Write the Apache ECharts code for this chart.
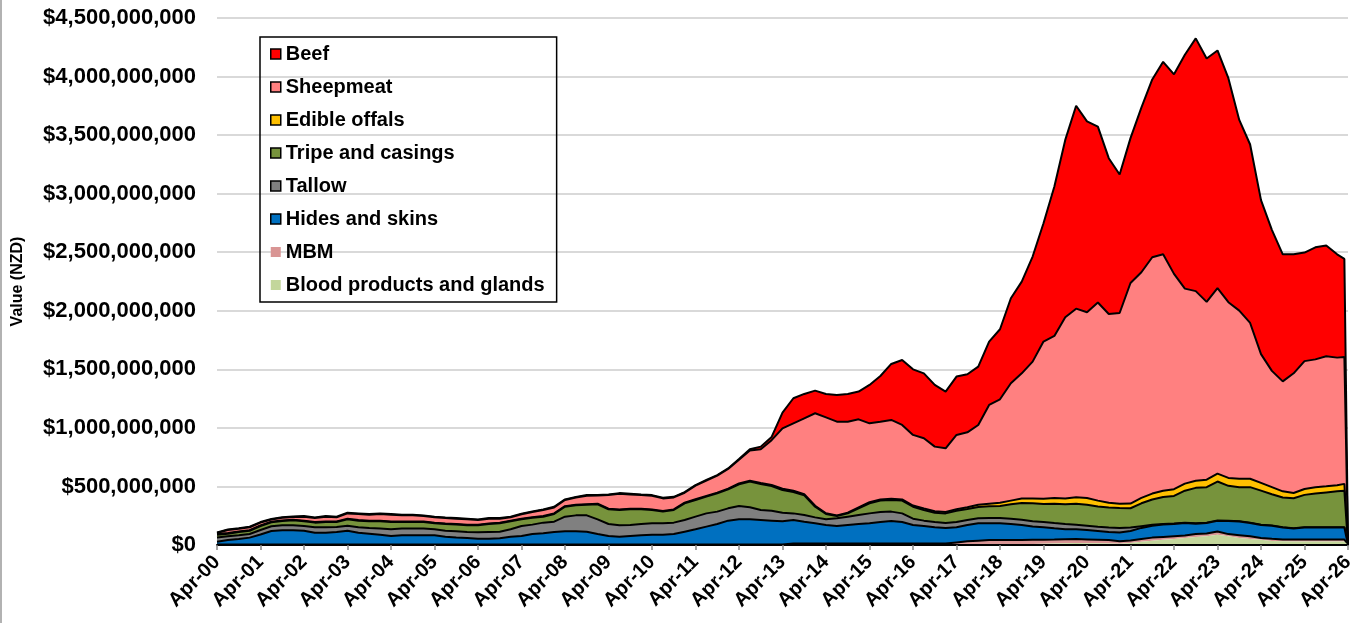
<!DOCTYPE html>
<html lang="en">
<head>
    <meta charset="UTF-8">
    <title>Meat and co-product export values</title>
    <script src="https://cdn.jsdelivr.net/npm/echarts@6.0.0/dist/echarts.min.js"></script>
    <style>
        html, body { margin: 0; padding: 0; background: #fff; }
        #main { width: 1368px; height: 623px; }
    </style>
</head>
<body>
    <div id="main"></div>
    <script>
        // quarterly readings, plus the last partial month where everything drops to zero
        const dates = [
            '2000-04', '2000-07', '2000-10', '2001-01',
            '2001-04', '2001-07', '2001-10', '2002-01',
            '2002-04', '2002-07', '2002-10', '2003-01',
            '2003-04', '2003-07', '2003-10', '2004-01',
            '2004-04', '2004-07', '2004-10', '2005-01',
            '2005-04', '2005-07', '2005-10', '2006-01',
            '2006-04', '2006-07', '2006-10', '2007-01',
            '2007-04', '2007-07', '2007-10', '2008-01',
            '2008-04', '2008-07', '2008-10', '2009-01',
            '2009-04', '2009-07', '2009-10', '2010-01',
            '2010-04', '2010-07', '2010-10', '2011-01',
            '2011-04', '2011-07', '2011-10', '2012-01',
            '2012-04', '2012-07', '2012-10', '2013-01',
            '2013-04', '2013-07', '2013-10', '2014-01',
            '2014-04', '2014-07', '2014-10', '2015-01',
            '2015-04', '2015-07', '2015-10', '2016-01',
            '2016-04', '2016-07', '2016-10', '2017-01',
            '2017-04', '2017-07', '2017-10', '2018-01',
            '2018-04', '2018-07', '2018-10', '2019-01',
            '2019-04', '2019-07', '2019-10', '2020-01',
            '2020-04', '2020-07', '2020-10', '2021-01',
            '2021-04', '2021-07', '2021-10', '2022-01',
            '2022-04', '2022-07', '2022-10', '2023-01',
            '2023-04', '2023-07', '2023-10', '2024-01',
            '2024-04', '2024-07', '2024-10', '2025-01',
            '2025-04', '2025-07', '2025-10', '2026-01',
            '2026-03', '2026-04'
        ];

        // values in NZD millions, one per date
        const blood = [
            1, 1, 1, 1, 1, 1, 1, 1, 1, 1, 1, 1, 1, 1, 1, 1, 1, 1, 1, 1, 1, 1, 1, 1, 1, 1, 1, 1,
            1, 1, 1, 1, 1, 1, 1, 1, 1, 1, 1, 1, 1, 1, 1, 1, 1, 1, 1, 1, 1, 1, 1, 1, 1,
            2, 2, 2, 2, 2, 2, 2, 2, 2, 2, 2, 2, 2, 2, 2, 2, 2, 2,
            4, 5, 6, 7, 8, 10, 12, 15,
            18, 15, 15, 12, 10, 18, 27, 36, 45, 51, 60, 69, 75, 88, 75, 60, 51, 45, 35, 32,
            30, 30, 30, 30, 30, 30, 0
        ];
        const mbm = [
            4, 4, 4, 4, 4, 4, 4, 4, 4, 4, 4, 4, 4, 4, 4, 4, 4, 4, 4, 4, 4, 4, 4, 4, 4, 4, 4, 4,
            4, 4, 4, 4, 4, 4, 4, 4, 4, 4, 4, 4, 4, 4, 4, 4, 4, 4, 4, 4, 4, 4, 4, 4, 4,
            10, 10, 10, 10, 10, 10, 10, 10, 10, 10, 10, 10, 10, 10, 10,
            20, 30, 35, 38, 38, 36, 36, 36, 35, 34, 34,
            33, 33, 30, 30, 22, 21, 24, 27, 24, 24, 21, 24, 24, 28, 18, 24, 24, 15, 18, 16,
            16, 16, 16, 16, 16, 16, 0
        ];
        const hides = [
            23, 38, 46, 58, 85, 115, 120, 120, 117, 100, 100, 106, 117, 100, 92, 83,
            72, 78, 78, 78, 78, 66, 60, 55, 49, 49, 52, 66, 72, 89, 95, 106,
            112, 112, 109, 89, 72, 66, 72, 78, 83, 83, 89, 109, 129, 152, 174, 203,
            214, 214, 209, 203, 197, 202, 187, 173, 159, 150, 159, 167, 173, 184, 193, 184,
            159, 150, 139, 133, 129, 139, 148, 143, 142, 137, 128, 113, 106, 96, 85,
            84, 81, 75, 69, 75, 81, 95, 101, 107, 105, 107, 89, 89, 90, 112, 116, 113,
            110, 111, 101, 94, 103, 103, 103, 103, 103, 0
        ];
        const tallow = [
            37, 31, 32, 31, 38, 40, 43, 43, 40, 46, 46, 43, 43, 46, 48, 52,
            57, 57, 57, 57, 51, 51, 52, 51, 54, 57, 57, 63, 85, 80, 91, 88,
            125, 136, 139, 125, 102, 97, 94, 96, 97, 97, 97, 100, 108, 113, 106, 105,
            114, 103, 85, 85, 74, 56, 57, 51, 48, 66, 71, 77, 85, 86, 80, 74,
            54, 46, 45, 43, 45, 43, 43, 45, 45, 45, 45, 45, 45, 45, 45,
            38, 35, 35, 38, 38, 29, 15, 9, 4, 3, 3, 3, 3, 3, 3, 3, 3,
            3, 3, 3, 3, 3, 3, 3, 3, 3, 0
        ];
        const tripe = [
            23, 23, 28, 28, 34, 34, 37, 43, 40, 40, 45, 42, 54, 57, 57, 62,
            62, 56, 56, 56, 51, 57, 57, 57, 60, 68, 71, 68, 57, 59, 51, 66,
            85, 86, 91, 128, 126, 131, 134, 126, 114, 100, 108, 142, 142, 143, 156, 162,
            185, 219, 222, 211, 194, 183, 168, 91, 46, 20, 28, 57, 86, 97, 99, 109,
            102, 91, 80, 82, 97, 93, 97, 100, 103, 123, 143, 154, 154, 166, 168,
            180, 180, 174, 171, 171, 165, 195, 216, 230, 236, 273, 303, 303, 333, 297, 291, 303,
            291, 267, 253, 256, 276, 288, 297, 306, 312, 0
        ];
        const edible = [
            5, 5, 5, 5, 5, 5, 5, 5, 5, 5, 5, 5, 5, 5, 5, 5, 5, 5, 5, 5, 5, 5,
            5, 5, 5, 5, 5, 5, 5, 5, 5, 5, 5, 5, 5, 5, 5, 5, 5, 5, 5, 5, 5, 5,
            6, 6, 6, 6, 8, 8, 8, 8, 10,
            10, 10, 8, 6, 5, 6, 8, 10, 10, 10, 10, 10, 12, 12, 12,
            12, 15, 18, 22, 28, 32, 38, 42, 45, 48, 50,
            55, 58, 50, 40, 36, 40, 46, 50, 54, 58, 60, 60, 64, 68, 68, 72, 72,
            66, 60, 53, 45, 50, 54, 52, 52, 58, 0
        ];
        const sheepmeat = [
            10, 26, 23, 24, 24, 18, 22, 23, 35, 34, 41, 35, 46, 52, 52, 58,
            58, 52, 52, 46, 46, 46, 46, 46, 40, 41, 35, 29, 38, 44, 52, 51,
            52, 62, 72, 71, 116, 134, 122, 116, 117, 108, 102, 85, 117, 131, 145, 168,
            202, 257, 288, 383, 516, 576, 648, 790, 819, 800, 777, 752, 673, 664, 674, 636,
            603, 600, 552, 544, 635, 640, 682, 844, 883, 1002, 1069, 1168, 1342, 1384, 1547,
            1610, 1586, 1692, 1613, 1629, 1883, 1927, 2018, 2018, 1838, 1665, 1620, 1518, 1584, 1500, 1435, 1330,
            1100, 993, 939, 1022, 1092, 1091, 1111, 1090, 1084, 0
        ];
        const beef = [
            5, 5, 5, 5, 5, 5, 5, 5, 5, 5, 5, 5, 5, 5, 5, 5,
            5, 5, 5, 5, 5, 5, 5, 5, 5, 5, 5, 5, 5, 5, 5, 5,
            5, 5, 5, 5, 5, 5, 5, 5, 5, 5, 5, 5, 5, 5, 5, 5,
            6, 11, 23, 28, 135, 214, 208, 193, 200, 228, 237, 237, 328, 390, 478, 555,
            560, 555, 527, 484, 498, 496, 498, 541, 598, 726, 783, 897, 1010, 1276, 1515,
            1733, 1629, 1501, 1330, 1183, 1237, 1405, 1518, 1644, 1704, 1997, 2158, 2078, 2029, 1913, 1629, 1524,
            1315, 1204, 1085, 1016, 927, 957, 945, 882, 837, 0
        ];

        // months counted from Apr-2000, so each April lands on a multiple of 12
        function monthOf(d) {
            const [y, m] = d.split('-').map(Number);
            return (y - 2000) * 12 + (m - 4);
        }

        const font = '"Liberation Sans", Arial, sans-serif';

        // bottom of the stack first
        const layers = [
            { name: 'Blood products and glands', vals: blood, fill: '#C3D69B', line: 0 },
            { name: 'MBM', vals: mbm, fill: '#D99594', line: 2 },
            { name: 'Hides and skins', vals: hides, fill: '#0070C0', line: 2 },
            { name: 'Tallow', vals: tallow, fill: '#808080', line: 2 },
            { name: 'Tripe and casings', vals: tripe, fill: '#77933C', line: 2 },
            { name: 'Edible offals', vals: edible, fill: '#FFC000', line: 2 },
            { name: 'Sheepmeat', vals: sheepmeat, fill: '#FF8080', line: 2 },
            { name: 'Beef', vals: beef, fill: '#FF0000', line: 2 }
        ];

        // value comes first in each pair so the stack adds up the y values, not the months
        const series = layers.map((l, i) => ({
            name: l.name,
            type: 'line',
            stack: 'total',
            symbol: 'none',
            z: 12 - i, // lower layers on top so every black outline stays whole
            dimensions: ['value', 'month'],
            encode: { x: 'month', y: 'value' },
            data: l.vals.map((v, k) => [v * 1e6, monthOf(dates[k])]),
            lineStyle: { color: '#000', width: l.line },
            areaStyle: { color: l.fill, opacity: 1 },
            itemStyle: { color: l.fill },
            emphasis: { disabled: true }
        }));

        const legendData = layers.slice().reverse().map(l => ({
            name: l.name,
            itemStyle: {
                color: l.fill,
                borderColor: '#000',
                borderWidth: l.name === 'MBM' || l.name === 'Blood products and glands' ? 0 : 1.5
            }
        }));

        const chart = echarts.init(document.getElementById('main'));
        chart.setOption({
            animation: false,
            backgroundColor: '#fff',
            grid: { left: 217, right: 20, top: 18, bottom: 78, outerBoundsMode: 'none' },
            legend: {
                orient: 'vertical',
                left: 260,
                top: 37,
                z: 30,
                icon: 'rect',
                itemWidth: 10,
                itemHeight: 10,
                itemGap: 13,
                padding: [7, 12, 7, 10],
                borderColor: '#000',
                borderWidth: 1.5,
                selectedMode: false,
                textStyle: { fontSize: 20, fontWeight: 'bold', color: '#000', fontFamily: font },
                data: legendData
            },
            xAxis: {
                type: 'value',
                min: 0,
                max: 312,
                interval: 12,
                z: 20,
                axisLine: { show: true, lineStyle: { color: '#000', width: 2 } },
                axisTick: { show: true, length: 5, lineStyle: { color: '#888', width: 1.5 } },
                splitLine: { show: false },
                axisLabel: {
                    rotate: 45,
                    margin: 14,
                    fontSize: 20,
                    fontWeight: 'bold',
                    color: '#000',
                    fontFamily: font,
                    formatter: v => 'Apr-' + String(Math.round(v / 12)).padStart(2, '0')
                }
            },
            yAxis: {
                type: 'value',
                min: 0,
                max: 4500000000,
                interval: 500000000,
                name: 'Value (NZD)',
                nameLocation: 'middle',
                nameRotate: 90,
                nameGap: 191,
                nameTextStyle: { fontSize: 16, fontWeight: 'bold', color: '#000', fontFamily: font },
                axisLine: { show: false },
                axisTick: { show: false },
                splitLine: { lineStyle: { color: '#d9d9d9', width: 2 } },
                axisLabel: {
                    margin: 21,
                    fontSize: 22,
                    fontWeight: 'bold',
                    color: '#000',
                    fontFamily: font,
                    formatter: v => '$' + String(v).replace(/\B(?=(\d{3})+(?!\d))/g, ',')
                }
            },
            graphic: [{
                type: 'line',
                shape: { x1: 1, y1: 0, x2: 1, y2: 623 },
                style: { stroke: '#999', lineWidth: 1.5 }
            }],
            series: series
        });
    </script>
</body>
</html>
